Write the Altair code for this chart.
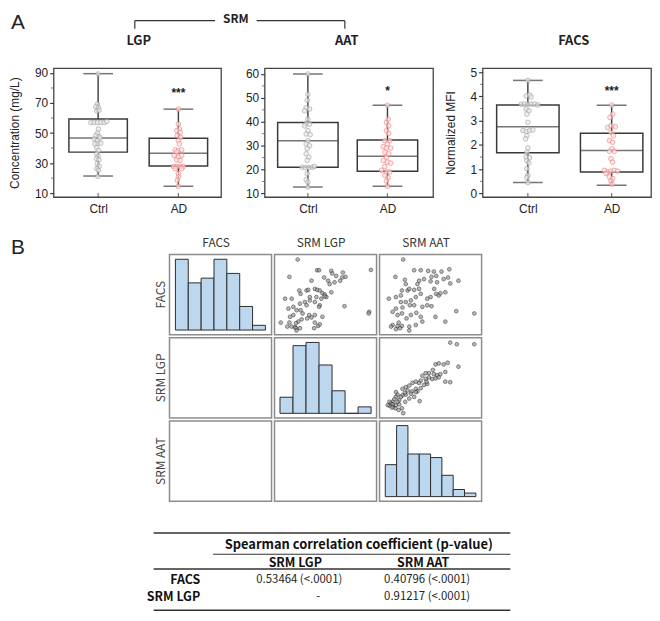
import altair as alt
import pandas as pd

# ---------------- Panel A data ----------------
groups = ["Ctrl", "AD"]

lgp_low = [21.4, 14.6]; lgp_q1 = [37.3, 28.0]; lgp_med = [46.7, 36.6]; lgp_q3 = [59.3, 46.5]; lgp_high = [89.5, 65.9]
aat_low = [12.7, 13.0]; aat_q1 = [21.0, 19.3]; aat_med = [32.1, 25.6]; aat_q3 = [39.7, 32.4]; aat_high = [60.0, 46.9]
facs_low = [0.45, 0.34]; facs_q1 = [1.68, 0.88]; facs_med = [2.75, 1.77]; facs_q3 = [3.65, 2.48]; facs_high = [4.66, 3.64]

lgp_ctrl = [89.3, 69.2, 67.4, 66.9, 64.7, 65.2, 57.0, 57.0, 57.0, 57.0, 57.0, 57.7, 52.7, 49.8, 48.3, 47.6, 46.1,
            45.0, 46.7, 43.2, 43.2, 42.8, 40.1, 38.4, 36.2, 34.4, 32.9, 32.2, 29.6, 27.8, 26.3, 25.2, 21.2]
lgp_ctrl_jit = [0, -0.7, -2.3, 0.3, -1.3, 1, -7.3, -4, -0.7, 2.7, 6, 8.7, 0.3, -0.7, -2.3, 1, -4, -0.7, 2, -0.7,
                2.7, -3.3, -1.3, 0.3, -1.3, 0, -1.7, 0.7, -0.7, 1, -1.3, 0.3, -0.3]
lgp_ad = [65.9, 56.0, 52.7, 51.6, 50.4, 48.3, 47.1, 45.0, 42.8, 38.8, 38.4, 38.8, 37.3, 35.1, 34.0, 35.1, 32.2,
          31.8, 27.8, 27.8, 27.8, 27.8, 26.3, 26.3, 23.0, 20.8, 18.6, 14.6]
lgp_ad_jit = [0, 0, 1, -1.7, 1.7, -1, 2.3, 0, 1, -3.3, 0, 3.3, -1.7, -4.3, 0, 3.3, -1.7, 1.7, -5, -1.7, 1.7, 5,
              -3.3, 3.3, 0, 0, -1, 0]

aat_ctrl = [60.0, 51.5, 49.0, 45.9, 45.3, 44.6, 41.1, 39.3, 39.0, 38.3, 36.3, 34.9, 34.6, 32.1, 30.7, 30.0, 28.7,
            26.6, 25.2, 23.8, 21.0, 20.8, 20.8, 21.0, 21.3, 18.3, 15.8, 14.8, 12.7]
aat_ctrl_jit = [0, 0, -0.7, -1.7, 1.7, -3.3, 0, -1.7, 1.7, -3.3, 0, -1.7, 2.3, 0, -1.7, 1.7, -0.7, -1.7, 1, -0.7,
                -5.7, -2.3, 1, 4.3, 6.7, -0.7, -1.7, 0, 0]
aat_ad = [46.9, 41.1, 39.7, 38.3, 36.3, 35.1, 32.1, 32.1, 30.7, 29.6, 29.0, 29.0, 27.3, 26.6, 25.2, 23.8, 23.1,
          22.7, 21.3, 19.7, 19.0, 19.0, 17.6, 16.6, 15.2, 13.0]
aat_ad_jit = [0, 0.7, -1, 1.3, -1, 1.3, -2.7, 2.3, 0, -4.3, -1, 3.3, -2.7, 1.3, -1, -4.3, 0, 3.3, -2.7, -6, -1,
              2.3, -2.7, 0.7, -1, 0]

facs_ctrl = [4.66, 4.02, 4.06, 3.98, 3.68, 3.68, 3.68, 3.68, 3.68, 3.65, 3.48, 3.41, 3.27, 2.93, 2.59, 2.56, 2.59,
             2.62, 2.38, 2.25, 1.88, 1.70, 1.50, 1.47, 1.36, 1.25, 1.02, 0.75, 0.65, 0.45]
facs_ctrl_jit = [0, -1.7, 1.7, 3.3, -6.7, -3.3, 0, 3.3, 6.7, 10, -1.7, 1, -1, 0, -5, -1.7, 1.7, 5, -1, -2.3, 0,
                 -1, -1.7, 1.7, -1, 1, -1, 0, -1, 0]
facs_ad = [3.64, 3.27, 3.13, 2.72, 2.79, 2.75, 2.52, 2.38, 2.18, 2.11, 1.84, 1.74, 1.74, 1.43, 1.29, 0.95, 0.88,
           0.92, 0.95, 0.92, 0.82, 0.68, 0.61, 0.51, 0.38]
facs_ad_jit = [0, 1, -1.7, -4, -0.7, 3.7, -0.7, 1.7, -2.3, 1, 0.3, -2.3, 2.7, -0.7, 1, -7.3, -4, -0.7, 2.7, 6,
               -5.7, -2.3, 1, -0.7, 0.3]

sig_marks = ["***", "*", "***"]
sig_y = [76.4, 52.9, 4.22]

lgp_ticks = [10, 30, 50, 70, 90]
lgp_minor = [20, 40, 60, 80]
aat_ticks = [10, 20, 30, 40, 50, 60]
aat_minor = [15, 25, 35, 45, 55]
facs_ticks = [0, 1, 2, 3, 4, 5]
facs_minor = [0.5, 1.5, 2.5, 3.5, 4.5]

# ---------------- Panel B data ----------------
facs_bin_lo = [0.30, 0.93, 1.56, 2.19, 2.82, 3.45, 4.08]
facs_bin_hi = [0.93, 1.56, 2.19, 2.82, 3.45, 4.08, 4.71]
facs_counts = [15, 10, 11, 15, 12, 5, 1]
lgp_bin_lo = [14.6, 25.3, 36.0, 46.7, 57.4, 68.1, 78.8]
lgp_bin_hi = [25.3, 36.0, 46.7, 57.4, 68.1, 78.8, 89.5]
lgp_counts = [5, 21, 22, 15, 7, 0, 2]
aat_bin_lo = [12.7, 18.6, 24.5, 30.4, 36.3, 42.2, 48.1, 54.0]
aat_bin_hi = [18.6, 24.5, 30.4, 36.3, 42.2, 48.1, 54.0, 59.9]
aat_counts = [9, 20, 12, 12, 11, 6, 2, 1]

fl_lgp = [29.3, 22.4, 45.5, 47.1, 57.3, 58.1, 66.9, 69.1, 66.4, 64.7, 90.3, 24.3, 18.8, 31.7, 30.6, 36.7, 38.1,
          43.6, 45.5, 47.7, 49.9, 51.8, 53.2, 51.8, 57.3, 60.0, 54.6, 51.3, 40.8, 39.4, 35.3, 36.7, 43.6, 47.7,
          47.1, 68.3, 88.9, 88.4, 28.4, 31.7, 25.7, 33.4, 38.9, 40.8, 43.6, 49.9, 32.6, 29.8, 27.9, 22.4, 15.2,
          20.7, 24.3, 27.1, 27.9, 31.2, 28.4, 43.6, 46.3, 43.0, 47.7, 21.6, 25.7, 31.2, 22.9, 55.9, 61.4, 44.9,
          49.0, 39.4, 37.2]
fl_facs = [4.69, 3.61, 4.02, 4.02, 3.98, 3.82, 3.88, 3.61, 3.57, 3.37, 4.04, 2.25, 2.25, 2.55, 2.76, 2.76, 2.80,
           2.86, 2.80, 2.76, 2.59, 2.51, 2.35, 2.39, 2.65, 3.27, 3.37, 3.57, 3.37, 2.14, 2.04, 1.84, 2.04, 1.84,
           1.74, 1.78, 1.43, 1.33, 1.53, 1.53, 1.23, 1.33, 1.23, 1.08, 1.23, 1.12, 0.96, 0.82, 0.72, 0.76, 0.76,
           0.51, 0.51, 0.47, 0.41, 0.41, 0.27, 0.76, 0.55, 0.41, 0.65, 1.63, 1.74, 1.94, 1.12, 3.16, 3.67, 2.35,
           2.25, 2.35, 1.02]

fa_aat = [20.0, 15.7, 20.9, 26.0, 29.6, 33.7, 36.8, 41.0, 45.3, 38.1, 35.5, 44.6, 42.2, 45.8, 50.3, 38.6, 35.0,
          31.4, 28.7, 12.1, 16.0, 18.7, 19.3, 22.4, 23.3, 26.0, 28.7, 29.6, 26.9, 24.2, 21.4, 23.6, 19.6, 16.0,
          14.2, 16.9, 19.3, 21.8, 24.2, 27.2, 30.5, 33.2, 35.5, 38.1, 39.5, 40.4, 43.1, 37.0, 37.7, 49.1, 59.0,
          43.1, 29.6, 30.5, 26.9, 23.3, 19.3, 18.2, 16.9, 14.2, 13.3, 16.0, 23.3, 17.5, 33.2, 35.0, 26.0, 18.7,
          27.8, 21.4]
fa_facs = [4.69, 3.61, 3.43, 4.02, 4.02, 3.98, 3.94, 3.94, 4.08, 3.67, 3.61, 3.57, 3.47, 3.20, 3.37, 3.27, 3.33,
           3.47, 3.37, 2.25, 2.35, 2.45, 2.76, 2.76, 2.86, 2.80, 2.86, 2.55, 2.35, 2.14, 2.04, 1.84, 1.70, 1.63,
           1.43, 1.23, 1.33, 1.02, 1.23, 1.37, 1.74, 1.84, 1.78, 2.55, 2.45, 2.59, 2.65, 2.86, 1.12, 1.47, 1.33,
           0.82, 1.12, 0.82, 0.61, 0.51, 0.55, 0.41, 0.55, 0.61, 0.51, 0.35, 0.27, 0.76, 2.25, 2.35, 1.84, 2.04,
           3.16, 3.16]

la_aat = [45.8, 49.4, 59.0, 50.3, 44.4, 42.2, 39.5, 37.7, 43.1, 36.3, 34.1, 32.3, 30.5, 36.8, 38.6, 40.4, 34.1,
          35.9, 37.7, 39.5, 32.3, 29.6, 26.9, 28.7, 31.4, 33.2, 43.1, 45.8, 25.1, 23.3, 21.4, 19.6, 22.4, 24.7,
          26.9, 29.6, 27.8, 24.2, 21.4, 19.6, 16.9, 18.7, 16.0, 15.1, 17.8, 14.2, 13.3, 12.4, 14.6, 16.0, 17.8,
          15.7, 19.3, 17.5, 20.0, 29.0, 23.3, 26.0, 26.9, 20.9, 16.0, 14.2, 16.9, 21.1, 12.4, 13.9, 11.5, 32.8]
la_lgp = [88.9, 87.2, 87.2, 63.7, 67.8, 66.1, 67.1, 66.1, 58.2, 60.3, 56.9, 56.9, 54.2, 55.9, 54.8, 55.9, 52.5,
          50.8, 51.4, 52.5, 50.8, 49.1, 48.0, 46.7, 44.6, 45.6, 48.0, 47.4, 46.7, 43.9, 42.2, 40.5, 38.8, 37.8,
          40.5, 41.2, 37.8, 35.4, 34.4, 33.7, 34.4, 32.0, 32.0, 29.6, 28.6, 26.9, 25.2, 22.8, 21.8, 23.5, 24.2,
          20.1, 20.1, 18.4, 15.0, 27.6, 30.3, 32.0, 37.1, 36.5, 37.1, 24.2, 26.9, 26.9, 26.9, 20.8, 23.5, 48.0]

matrix_vars = ["FACS", "SRM LGP", "SRM AAT"]

# ---------------- Table data ----------------
tbl_title = ["Spearman correlation coefficient  (p-value)"]
tbl_cols = ["SRM LGP", "SRM AAT"]
tbl_row_labels = ["FACS", "SRM LGP"]
tbl_cell_rows = ["FACS", "FACS", "SRM LGP"]
tbl_cell_cols = ["SRM LGP", "SRM AAT", "SRM AAT"]
tbl_cell_text = ["0.53464 (<.0001)", "0.40796 (<.0001)", "0.91217 (<.0001)"]
tbl_empty_rows = ["SRM LGP"]
tbl_empty_cols = ["SRM LGP"]
tbl_empty_text = ["-"]

# ---------------- helpers ----------------
DARK = "#3a3a3a"
SANS = "Liberation Sans"
KR = "Noto Sans CJK KR"
one = pd.DataFrame({"k": [0]})
NOVIEW = alt.ViewBackground(stroke="transparent")


def anchor(x, y):
    # invisible layout anchor (pins the outer bounds of a row)
    return alt.Chart(one).mark_point(opacity=0, size=1).encode(x=alt.value(x), y=alt.value(y))


def spacer(w, h):
    return (alt.Chart(one).mark_point(opacity=0)
            .encode(x=alt.value(0), y=alt.value(0))
            .properties(width=w, height=h, view=NOVIEW))


def deco_text(txt, x, y, size=13, weight="normal", font=KR, angle=0, color="#222", align="center"):
    return (alt.Chart(one)
            .mark_text(text=txt, fontSize=size, fontWeight=weight, font=font, angle=angle,
                       color=color, align=align, baseline="middle")
            .encode(x=alt.value(x), y=alt.value(y)))


def deco_rule(x, y, x2=None, y2=None, w=1.2, color="#333"):
    enc = dict(x=alt.value(x), y=alt.value(y))
    if x2 is not None:
        enc["x2"] = alt.value(x2)
    if y2 is not None:
        enc["y2"] = alt.value(y2)
    return alt.Chart(one).mark_rule(color=color, strokeWidth=w).encode(**enc)


def box_panel(name, low, q1, med, q3, high, cv, cj, av, aj, sig, sy, ydom, yticks, yminor, ytitle,
              W, xpad, xalign, boxw, title_x, extras=()):
    H = 130
    stats = pd.DataFrame({"grp": groups, "low": low, "q1": q1, "med": med, "q3": q3, "high": high})
    pts = pd.DataFrame({"grp": ["Ctrl"] * len(cv) + ["AD"] * len(av), "v": cv + av, "jit": cj + aj})
    sigdf = pd.DataFrame({"grp": ["AD"], "y": [sy], "t": [sig]})
    minor_df = pd.DataFrame({"m": yminor})
    xs = alt.Scale(type="point", domain=groups, padding=xpad, align=xalign)
    xax = alt.Axis(title=None, labelAngle=0, ticks=False, domain=False, grid=False, labelPadding=7,
                   labelFont=SANS, labelFontSize=12, labelColor="#222")
    ys = alt.Scale(domain=ydom, nice=False, zero=False)
    yax = alt.Axis(values=yticks, title=ytitle, domain=False, grid=False, tickSize=4, tickColor=DARK,
                   tickWidth=1.2, labelFont=SANS, labelFontSize=12, labelColor="#222", labelPadding=2,
                   titleFont=SANS, titleFontSize=12, titleFontWeight="normal", titleColor="#222",
                   titlePadding=13)
    X = alt.X("grp:N", scale=xs, axis=xax, sort=groups)

    def Y(f):
        return alt.Y(f, scale=ys, axis=yax)

    b = alt.Chart(stats)
    layers = [
        b.mark_rule(color=DARK, strokeWidth=1.4).encode(x=X, y=Y("low:Q"), y2="q1:Q"),
        b.mark_rule(color=DARK, strokeWidth=1.4).encode(x=X, y=Y("q3:Q"), y2="high:Q"),
        b.mark_tick(orient="horizontal", size=30, thickness=1.5, color=DARK).encode(x=X, y=Y("low:Q")),
        b.mark_tick(orient="horizontal", size=30, thickness=1.5, color=DARK).encode(x=X, y=Y("high:Q")),
        b.mark_bar(size=boxw, fill="transparent", stroke=DARK, strokeWidth=1.5).encode(
            x=X, y=Y("q1:Q"), y2="q3:Q"),
        b.mark_tick(orient="horizontal", size=boxw, thickness=1.5, color=DARK).encode(x=X, y=Y("med:Q")),
        b.mark_tick(orient="vertical", size=4, thickness=1.2, color=DARK).encode(x=X, y=alt.value(H - 2)),
        alt.Chart(minor_df).mark_tick(orient="horizontal", size=2.5, thickness=1, color=DARK).encode(
            x=alt.value(-1.3), y=Y("m:Q")),
        alt.Chart(pts).mark_point(shape="circle", filled=True, size=22, strokeWidth=0.9).encode(
            x=X,
            xOffset=alt.XOffset("jit:Q", scale=alt.Scale(domain=[-10, 10], range=[-10, 10])),
            y=Y("v:Q"),
            fill=alt.Fill("grp:N", scale=alt.Scale(domain=groups, range=["#e9e9e9", "#fde2e2"]), legend=None),
            stroke=alt.Stroke("grp:N", scale=alt.Scale(domain=groups, range=["#9c9c9c", "#f07a7a"]),
                              legend=None),
        ),
        alt.Chart(sigdf).mark_text(fontSize=12, fontWeight="bold", font=SANS, color="#222",
                                   baseline="middle").encode(x=X, y=Y("y:Q"), text="t:N"),
        deco_text(name, title_x, -27, size=13, weight="bold"),
    ]
    layers += list(extras)
    return alt.layer(*layers).properties(
        width=W, height=H, view=alt.ViewBackground(stroke="#444", strokeWidth=1.3))


# panel A frame top-left sits at (49, 62) of the reference figure
lgp_extras = [
    deco_text("A", -36, -45.5, size=21, font=SANS, color="#222"),
    deco_rule(82, -48, y2=-40),
    deco_rule(82, -48, x2=163),
    deco_text("SRM", 184, -50, size=12, weight="bold"),
    deco_rule(205, -48, x2=294),
    deco_rule(294, -48, y2=-40),
    anchor(-43, -56),
    anchor(-43, 160),
]

lgp_panel = box_panel("LGP", lgp_low, lgp_q1, lgp_med, lgp_q3, lgp_high, lgp_ctrl, lgp_ctrl_jit, lgp_ad,
                      lgp_ad_jit, sig_marks[0], sig_y[0], [7.4, 93.1], lgp_ticks, lgp_minor,
                      "Concentration (mg/L)", 169, 0.543, 0.511, 59, 86, lgp_extras)
aat_panel = box_panel("AAT", aat_low, aat_q1, aat_med, aat_q3, aat_high, aat_ctrl, aat_ctrl_jit, aat_ad,
                      aat_ad_jit, sig_marks[1], sig_y[1], [8.5, 62.4], aat_ticks, aat_minor,
                      None, 170, 0.558, 0.487, 61, 83)
facs_panel = box_panel("FACS", facs_low, facs_q1, facs_med, facs_q3, facs_high, facs_ctrl, facs_ctrl_jit,
                       facs_ad, facs_ad_jit, sig_marks[2], sig_y[2], [-0.15, 5.16], facs_ticks, facs_minor,
                       "Normalized MFI", 170, 0.505, 0.535, 63, 92)

row_a = alt.hconcat(lgp_panel, spacer(44, 130), aat_panel, spacer(50, 130), facs_panel,
                    spacing=0, bounds="flush")

# ---------------- Scatter matrix ----------------
CW, CH = 103, 81
CELL_VIEW = alt.ViewBackground(stroke="#8c8c8c", strokeWidth=1.5)


def hist_cell(lo, hi, n, xdom, ydom, extras=()):
    df = pd.DataFrame({"lo": lo, "hi": hi, "n": n})
    bars = alt.Chart(df).mark_bar(fill="#bdd7ee", stroke="#2d2d2d", strokeWidth=1).encode(
        x=alt.X("lo:Q", scale=alt.Scale(domain=xdom, nice=False, zero=False), axis=None),
        x2="hi:Q",
        y=alt.Y("n:Q", scale=alt.Scale(domain=ydom, nice=False, zero=False), axis=None),
        y2=alt.Y2Datum(0),
    )
    return alt.layer(bars, *extras).properties(width=CW, height=CH, view=CELL_VIEW)


def scatter_cell(xv, yv, xdom, ydom, extras=()):
    df = pd.DataFrame({"x": xv, "y": yv})
    pts = alt.Chart(df).mark_point(shape="circle", filled=True, size=14, fill="#9e9e9e", stroke="#262626",
                                   strokeWidth=0.8).encode(
        x=alt.X("x:Q", scale=alt.Scale(domain=xdom, nice=False, zero=False), axis=None),
        y=alt.Y("y:Q", scale=alt.Scale(domain=ydom, nice=False, zero=False), axis=None),
    )
    return alt.layer(pts, *extras).properties(width=CW, height=CH, view=CELL_VIEW)


def empty_cell(extras=()):
    base = alt.Chart(one).mark_point(opacity=0).encode(x=alt.value(0), y=alt.value(0))
    return alt.layer(base, *extras).properties(width=CW, height=CH, view=CELL_VIEW)


def col_title(t):
    return deco_text(t, 47, -12, size=12, color="#333")


def row_title(t):
    return deco_text(t, -9, 40.5, size=12, color="#444", angle=270)


# matrix top-left cell sits at (166, 252) of the reference figure
ff = hist_cell(facs_bin_lo, facs_bin_hi, facs_counts, [0.01, 5.01], [-1, 16],
               [col_title(matrix_vars[0]), row_title(matrix_vars[0]),
                deco_text("B", -153, -7, size=21, font=SANS, color="#222"),
                anchor(-160, -24)])
fl = scatter_cell(fl_lgp, fl_facs, [10, 95], [0, 5], [col_title(matrix_vars[1])])
fa = scatter_cell(fa_aat, fa_facs, [7, 63], [0, 5], [col_title(matrix_vars[2])])
lf = empty_cell([row_title(matrix_vars[1])])
ll = hist_cell(lgp_bin_lo, lgp_bin_hi, lgp_counts, [10.1, 94.0], [-1.45, 23.45])
la = scatter_cell(la_aat, la_lgp, [7, 63], [9.9, 94])
af = empty_cell([row_title(matrix_vars[2]), anchor(-160, 99)])
al = empty_cell()
aa = hist_cell(aat_bin_lo, aat_bin_hi, aat_counts, [9.7, 62.9], [-1.3, 21.3])

matrix = alt.concat(spacer(114, CH), ff, fl, fa,
                    spacer(114, CH), lf, ll, la,
                    spacer(114, CH), af, al, aa,
                    columns=4, spacing=3, bounds="flush", align="each")

# ---------------- Table ----------------
TX = alt.Scale(type="point", domain=["label"] + tbl_cols, range=[18, 276], padding=0)
TY = alt.Scale(type="point", domain=["title", "head"] + tbl_row_labels, range=[12.5, 65], padding=0)

head_df = pd.DataFrame({"col": tbl_cols, "row": ["head"] * len(tbl_cols)})
lab_df = pd.DataFrame({"col": ["label"] * len(tbl_row_labels), "row": tbl_row_labels})
cell_df = pd.DataFrame({"col": tbl_cell_cols, "row": tbl_cell_rows, "t": tbl_cell_text})
empty_df = pd.DataFrame({"col": tbl_empty_cols, "row": tbl_empty_rows, "t": tbl_empty_text})
title_df = pd.DataFrame({"t": tbl_title, "row": ["title"]})


def tx():
    return alt.X("col:N", scale=TX, axis=None)


def ty():
    return alt.Y("row:N", scale=TY, axis=None)


# table top-left sits at (150, 532) of the reference figure
table = alt.layer(
    alt.Chart(title_df).mark_text(font=KR, fontSize=13, fontWeight="bold", color="#111").encode(
        x=alt.value(207), y=ty(), text="t:N"),
    alt.Chart(head_df).mark_text(font=KR, fontSize=12.5, fontWeight="bold", color="#111", dx=-4).encode(
        x=tx(), y=ty(), text="col:N"),
    alt.Chart(lab_df).mark_text(font=KR, fontSize=12.5, fontWeight="bold", color="#111", align="right",
                                dx=29).encode(x=tx(), y=ty(), text="row:N"),
    alt.Chart(cell_df).mark_text(font=KR, fontSize=11.5, color="#222").encode(x=tx(), y=ty(), text="t:N"),
    alt.Chart(empty_df).mark_text(font=KR, fontSize=11.5, color="#222", dx=19).encode(
        x=tx(), y=ty(), text="t:N"),
    deco_rule(0, 0, x2=360, w=1.5),
    deco_rule(60, 21.5, x2=360, w=1.1),
    deco_rule(0, 36.5, x2=360, w=1.5),
    deco_rule(0, 78, x2=360, w=1.5),
    anchor(-144, -11),
).properties(width=360, height=78, view=NOVIEW)

table_row = alt.hconcat(spacer(98, 78), table, spacing=3, bounds="flush")

# ---------------- Layout ----------------
chart = alt.vconcat(row_a, matrix, table_row, spacing=0).properties(padding=0, background="white")

chart.save("out.html", embed_options={"renderer": "svg", "actions": False})
